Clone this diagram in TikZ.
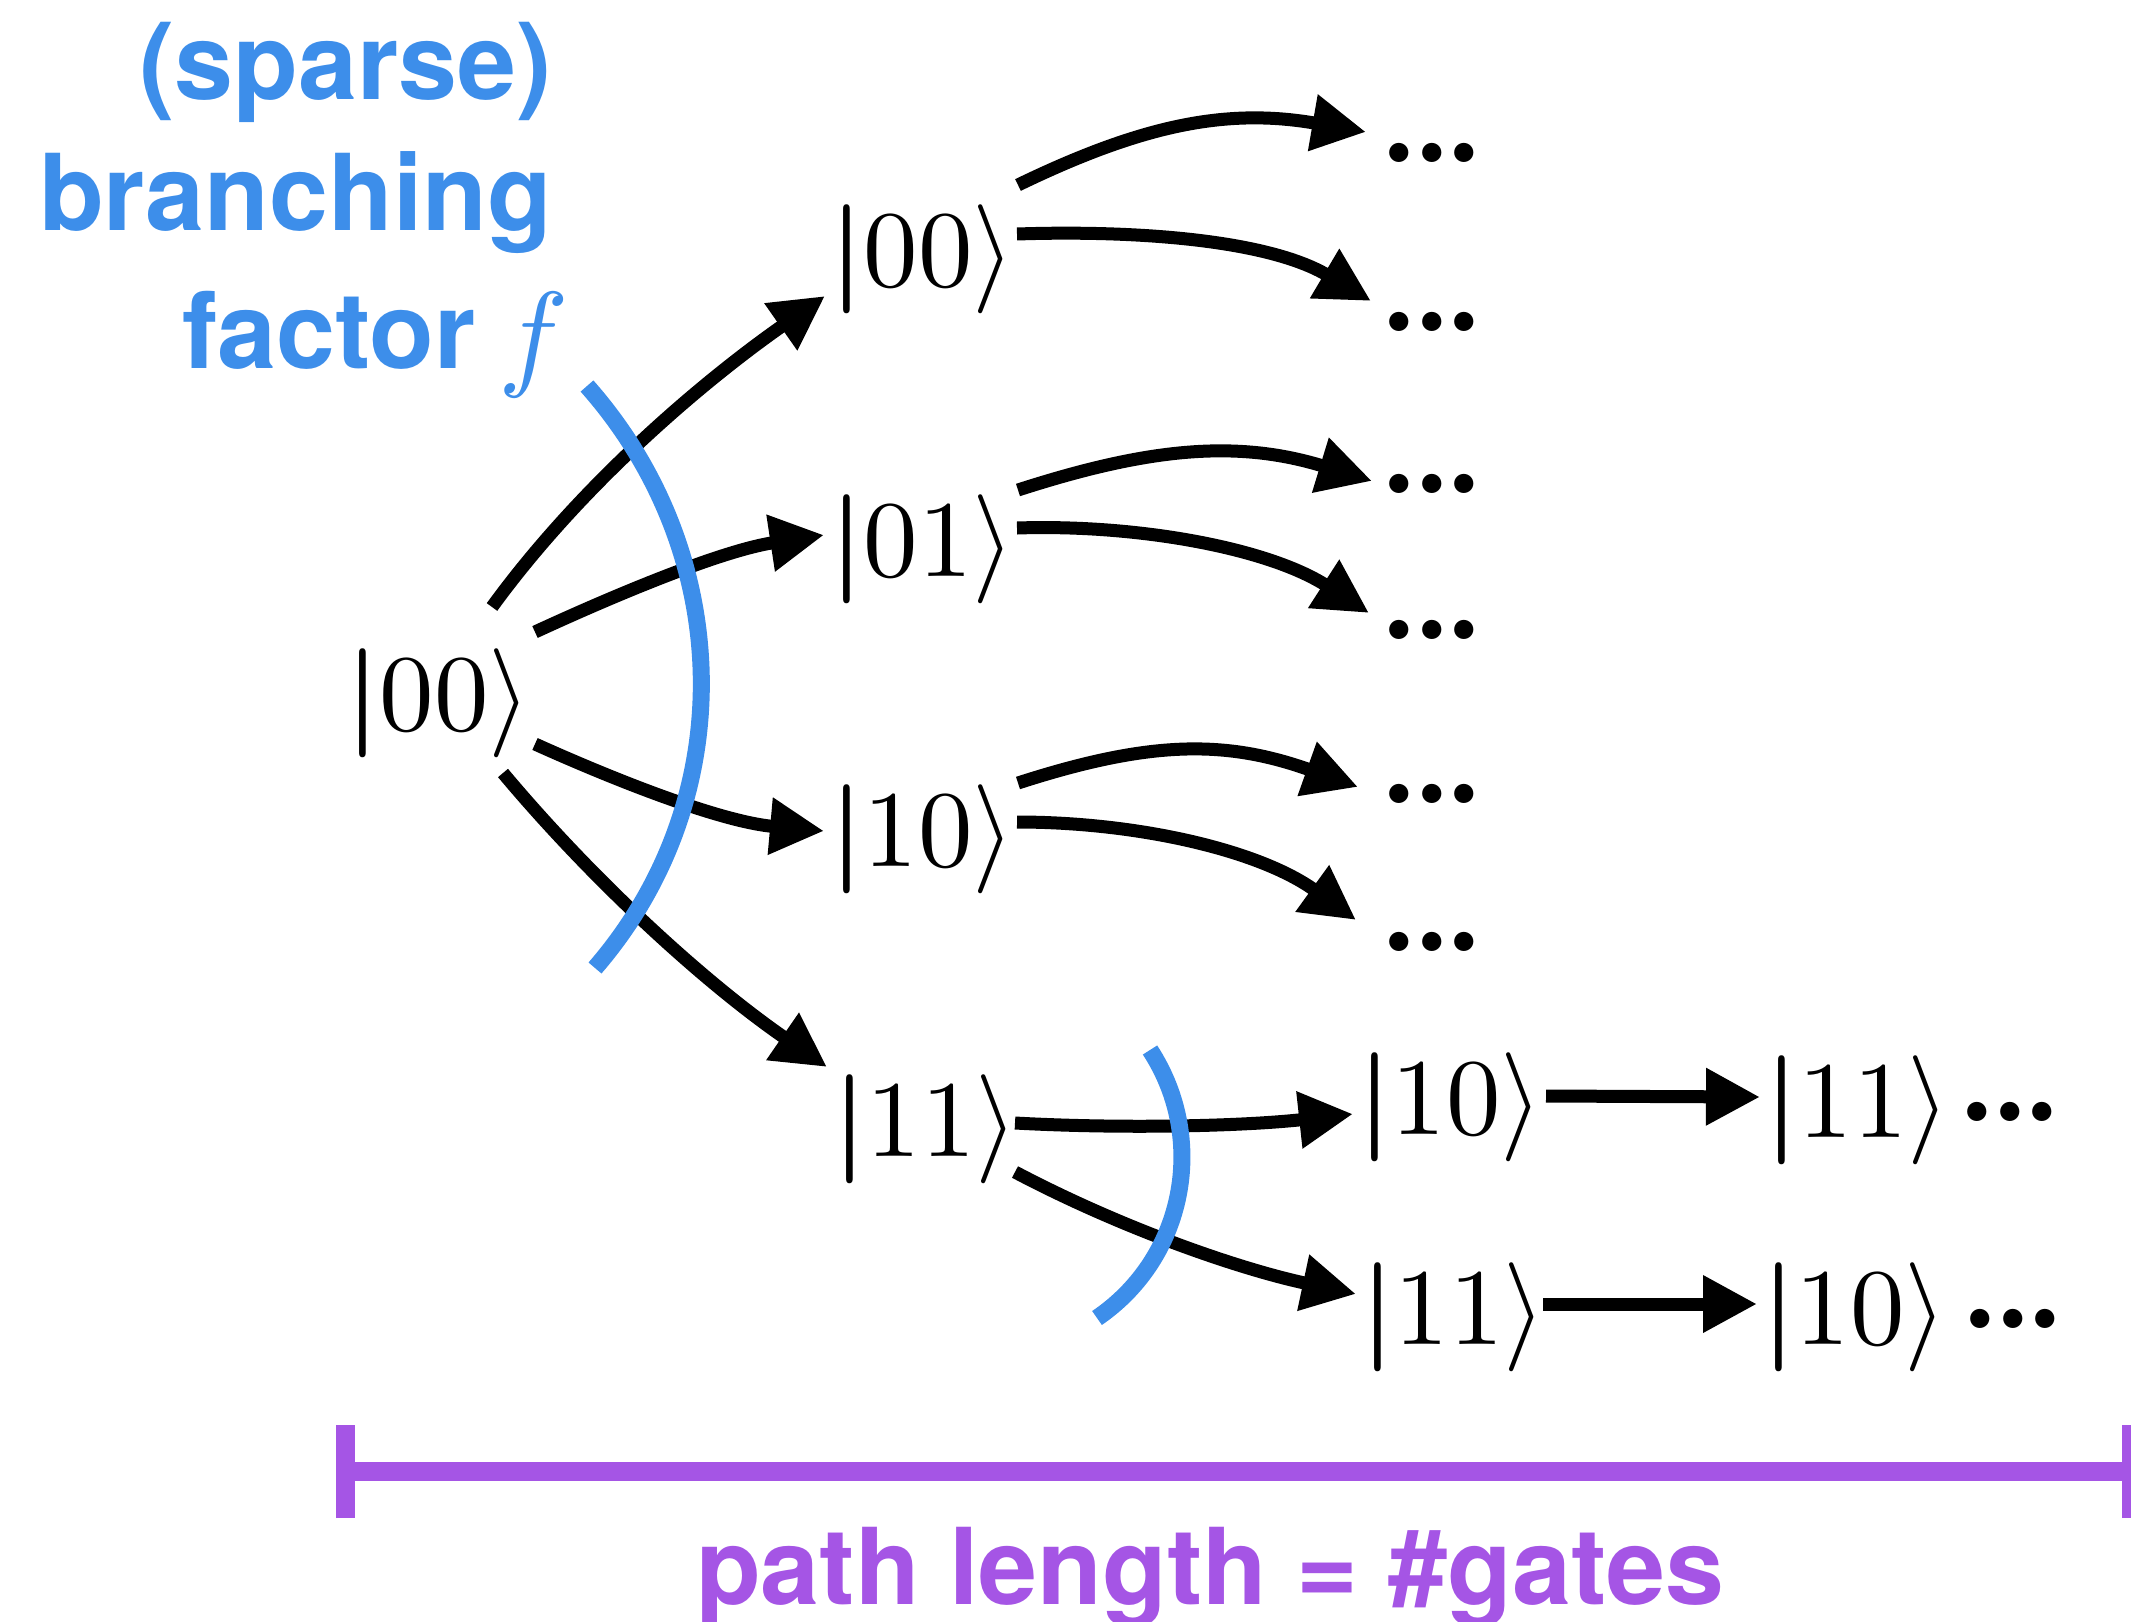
\documentclass[tikz,border=0pt]{standalone}
\usepackage{graphicx}
\usepackage{amsmath}
\usepackage{fontspec}
\newfontfamily\hv{TeX Gyre Heros}
\usetikzlibrary{arrows.meta}
\definecolor{fblue}{HTML}{3D8EEA}
\definecolor{fpurple}{HTML}{A555E5}
\tikzset{
  ket/.style={inner sep=0pt, outer sep=0pt, anchor=base west},
  dotsn/.style={inner sep=0pt, outer sep=0pt, font=\fontsize{133}{133}\selectfont\bfseries},
  arr/.style={line width=13pt, -{Triangle[length=54pt,width=54pt]}},
  bluearc/.style={draw=fblue, line width=17pt},
  lbl/.style={inner sep=0pt, outer sep=0pt, font=\hv\bfseries\fontsize{106}{120}\selectfont},
  plbar/.style={draw=fpurple, line width=19pt},
}
\newcommand\tdots{.\kern-9pt.\kern-9pt.}
\newcommand\bigket[1]{\scalebox{10.9}{\normalsize$\boldsymbol{|}#1\rangle$}}
\begin{document}
\begin{tikzpicture}[x=1pt,y=-1pt]
\useasboundingbox (0,0) rectangle (2131,1622);
\clip (0,0) rectangle (2131,1622);

% labels
\node[lbl, text=fblue, anchor=base east] (t1) at (552,99) {(sparse)};
\node[lbl, text=fblue, anchor=base east] (t2) at (552,230) {branching};
\node[lbl, text=fblue, anchor=base west] (t3) at (182,368) {factor\hspace{-6pt} \raisebox{-6pt}{\scalebox{11.8}{\normalsize$f$}}};
\node[lbl, text=fpurple, anchor=base] (t4) at (1210,1604) {path length = \#gates};

% kets
\node[ket] (root) at (345,730) {\bigket{00}};
\node[ket] (k00) at (829,286) {\bigket{00}};
\node[ket] (k01) at (829,576) {\bigket{01}};
\node[ket] (k10) at (829,866) {\bigket{10}};
\node[ket] (k11) at (832,1156) {\bigket{11}};
\node[ket] (k2a) at (1357,1134) {\bigket{10}};
\node[ket] (k2b) at (1360,1344) {\bigket{11}};
\node[ket] (k3a) at (1764,1137) {\bigket{11}};
\node[ket] (k3b) at (1761,1344) {\bigket{10}};

% dots
\node[dotsn] (d1) at (1432,153) {\tdots};
\node[dotsn] (d2) at (1432,322) {\tdots};
\node[dotsn] (d3) at (1432,484) {\tdots};
\node[dotsn] (d4) at (1432,630) {\tdots};
\node[dotsn] (d5) at (1432,794) {\tdots};
\node[dotsn] (d6) at (1432,942) {\tdots};
\node[dotsn] (d7) at (2010,1112) {\tdots};
\node[dotsn] (d8) at (2013,1319) {\tdots};

% arrows from root
\draw[arr] ([shift={(147,-123)}]root.base west) .. controls +(88,-121) and +(-123,86) .. ([shift={(-4,10)}]k00.base west);
\draw[arr] ([shift={(190,-98)}]root.base west) .. controls +(91,-42) and +(-99,15) .. ([shift={(-5,-41)}]k01.base west);
\draw[arr] ([shift={(190,14)}]root.base west) .. controls +(91,41) and +(-100,-9) .. ([shift={(-5,-35)}]k10.base west);
\draw[arr] ([shift={(158,43)}]root.base west) .. controls +(93,111) and +(-119,-82) .. ([shift={(-5,-89)}]k11.base west);

% second level
\draw[arr] ([shift={(189,-101)}]k00.base west) .. controls +(126,-61) and +(-138,-24) .. ([shift={(-66,-21)}]d1.center);
\draw[arr] ([shift={(188,-52)}]k00.base west) .. controls +(120,-4) and +(-103,-61) .. ([shift={(-61,-21)}]d2.center);
\draw[arr] ([shift={(189,-86)}]k01.base west) .. controls +(133,-43) and +(-134,-41) .. ([shift={(-60,-3)}]d3.center);
\draw[arr] ([shift={(188,-48)}]k01.base west) .. controls +(120,-4) and +(-101,-65) .. ([shift={(-63,-17)}]d4.center);
\draw[arr] ([shift={(189,-83)}]k10.base west) .. controls +(133,-43) and +(-132,-47) .. ([shift={(-74,-7)}]d5.center);
\draw[arr] ([shift={(188,-44)}]k10.base west) .. controls +(120,0) and +(-97,-70) .. ([shift={(-76,-22)}]d6.center);
\draw[arr] ([shift={(183,-33)}]k11.base west) .. controls +(110,6) and +(-109,12) .. ([shift={(-4,-20)}]k2a.base west);
\draw[arr] ([shift={(183,16)}]k11.base west) .. controls +(106,56) and +(-117,-25) .. ([shift={(-4,-50)}]k2b.base west);
\draw[arr] ([shift={(189,-38)}]k2a.base west) -- ([shift={(-4,-40)}]k3a.base west);
\draw[arr] ([shift={(183,-40)}]k2b.base west) -- ([shift={(-4,-40)}]k3b.base west);

% blue arcs
\draw[bluearc] (587,386) .. controls (734,552) and (742,798) .. (595,968);
\draw[bluearc] (1150,1050) .. controls (1208,1139) and (1185,1258) .. (1097,1318);

% path length bar
\coordinate (pl) at (345.5,1471.5);
\coordinate (pr) at (2131,1471.5);
\draw[plbar] (pl) -- (pr);
\draw[plbar] ([yshift=-46.5]pl) -- ([yshift=46.5]pl);
\draw[plbar] ([yshift=-46.5]pr) -- ([yshift=46.5]pr);
\end{tikzpicture}
\end{document}
